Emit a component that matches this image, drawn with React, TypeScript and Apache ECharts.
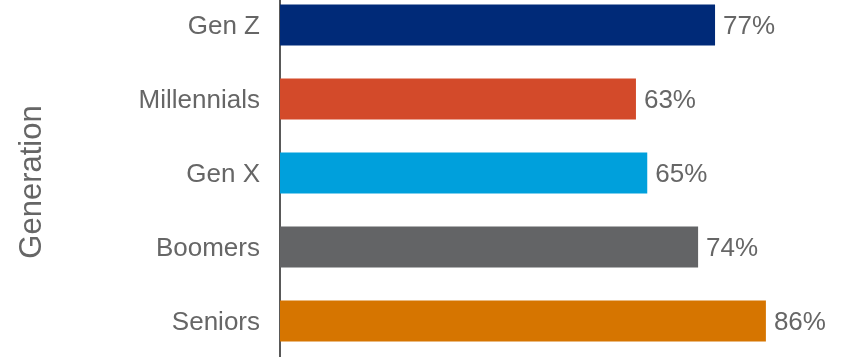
import React, { useEffect, useRef } from "react";
import * as echarts from "echarts";

const categories = ["Gen Z", "Millennials", "Gen X", "Boomers", "Seniors"];
const values = [77, 63, 65, 74, 86];
const colors = ["#002A78", "#D34A2A", "#00A0DC", "#636466", "#D67500"];
const axisTitle = "Generation";

export default function App() {
  const ref = useRef<HTMLDivElement>(null);
  useEffect(() => {
    document.body.style.margin = "0";
    const chart = echarts.init(ref.current!, null, { renderer: "svg" });
    const font = "Liberation Sans, Arial, sans-serif";
    chart.setOption({
      animation: false,
      grid: { left: 280, right: 0, top: 0, bottom: 0, containLabel: false },
      xAxis: {
        type: "value",
        min: 0,
        max: 100,
        show: false,
      },
      yAxis: {
        type: "category",
        data: categories,
        inverse: true,
        axisLine: { show: true, lineStyle: { color: "#595959", width: 2 } },
        axisTick: { show: false },
        axisLabel: {
          margin: 20,
          fontSize: 26,
          color: "#666666",
          fontFamily: font,
        },
      },
      graphic: [
        {
          type: "text",
          x: 30,
          y: 194,
          rotation: Math.PI / 2,
          style: {
            text: axisTitle,
            fontSize: 31,
            fill: "#666666",
            fontFamily: font,
            textAlign: "center",
            textVerticalAlign: "middle",
          },
        },
      ],
      series: [
        {
          type: "bar",
          barWidth: 41,
          data: values.map((v, i) => ({ value: v, itemStyle: { color: colors[i] } })),
          label: {
            show: true,
            position: "right",
            distance: 8,
            formatter: "{c}%",
            fontSize: 26,
            color: "#666666",
            fontFamily: font,
          },
        },
      ],
    });
    return () => chart.dispose();
  }, []);
  return <div ref={ref} style={{ position: "fixed", left: 0, top: -12, width: 845, height: 370 }} />;
}
